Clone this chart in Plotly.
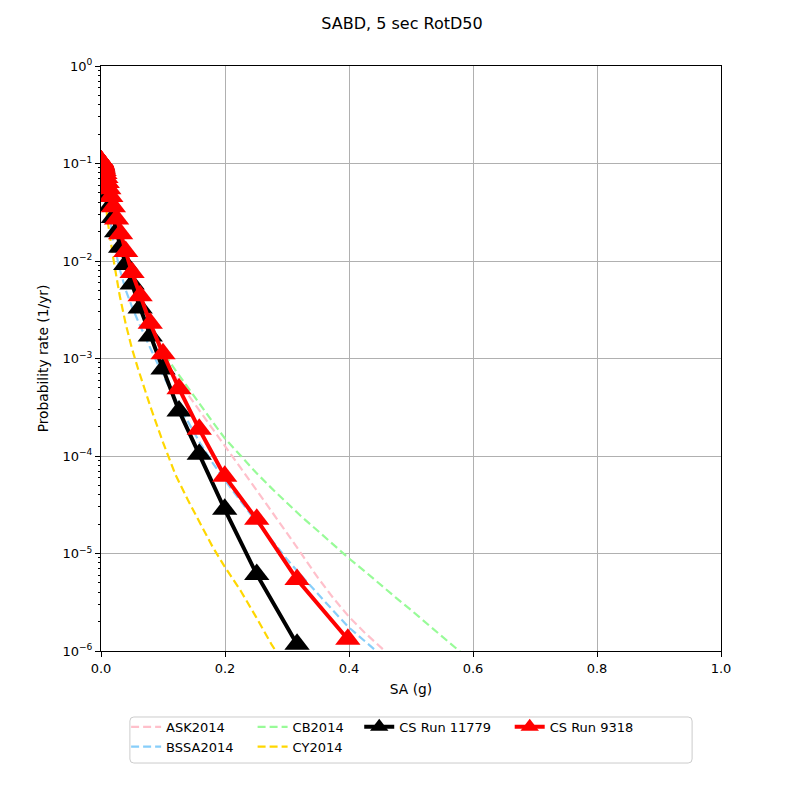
import plotly.graph_objects as go

# CyberShake IM levels (g)
cs_x = [0.0001, 0.00013, 0.00016, 0.0002, 0.00025, 0.00032, 0.0004, 0.0005, 0.00063, 0.00079,
        0.001, 0.00126, 0.00158, 0.002, 0.00251, 0.00316, 0.00398, 0.00501, 0.00631, 0.00794,
        0.01, 0.01259, 0.01585, 0.01995, 0.02512, 0.03162, 0.03981, 0.05012, 0.0631, 0.07943,
        0.1, 0.12589, 0.15849, 0.19953, 0.25119, 0.31623, 0.39811]

# CS Run 9318 (red)
run_9318 = [0.106, 0.106, 0.106, 0.106, 0.106, 0.105, 0.105, 0.105, 0.104, 0.104,
            0.103, 0.102, 0.101, 0.099, 0.097, 0.094, 0.090, 0.085, 0.079, 0.072,
            0.064, 0.055, 0.046, 0.036, 0.027, 0.019, 0.0125, 0.0076, 0.0044, 0.0023,
            0.00112, 0.00049, 0.000188, 6.2e-5, 2.24e-5, 5.4e-6, 1.32e-6]

# CS Run 11779 (black)
run_11779 = [0.104, 0.104, 0.104, 0.104, 0.104, 0.103, 0.103, 0.103, 0.102, 0.102,
             0.101, 0.100, 0.099, 0.097, 0.094, 0.090, 0.085, 0.079, 0.072, 0.064,
             0.056, 0.047, 0.037, 0.028, 0.020, 0.0138, 0.0092, 0.0058, 0.0033, 0.0017,
             0.00078, 0.00029, 0.000104, 2.84e-5, 6.1e-6, 1.17e-6]

# GMPE curves share this grid (g)
gmpe_x = [0.0001, 0.001, 0.0025, 0.005, 0.0075, 0.01, 0.02, 0.03, 0.04, 0.05,
          0.06, 0.08, 0.1, 0.12, 0.14, 0.16, 0.18, 0.2, 0.225, 0.25,
          0.275, 0.3, 0.325, 0.35, 0.375, 0.4, 0.425, 0.45, 0.475, 0.5,
          0.55, 0.6]

ask2014 = [0.105, 0.1, 0.0912, 0.0794, 0.0692, 0.0589, 0.0331, 0.0186, 0.0112, 0.00692,
           0.00447, 0.00204, 0.00102, 6.46e-4, 4.27e-4, 2.82e-4, 1.91e-4, 1.26e-4, 7.59e-5, 4.57e-5,
           2.75e-5, 1.62e-5, 9.55e-6, 5.62e-6, 3.47e-6, 2.24e-6, 1.55e-6, 1.10e-6, 7.94e-7, 5.75e-7]

bssa2014 = [0.105, 0.1, 0.0891, 0.0708, 0.0550, 0.0417, 0.0158, 0.00832, 0.00501, 0.00339,
            0.0024, 0.00126, 6.76e-4, 3.80e-4, 2.24e-4, 1.35e-4, 8.51e-5, 5.62e-5, 3.47e-5, 2.14e-5,
            1.38e-5, 8.71e-6, 5.75e-6, 3.80e-6, 2.57e-6, 1.74e-6, 1.26e-6, 9.12e-7, 6.76e-7]

cb2014 = [0.105, 0.1, 0.0912, 0.0813, 0.0708, 0.0603, 0.0339, 0.0195, 0.0120, 0.00741,
          0.00479, 0.00219, 0.00117, 7.59e-4, 5.01e-4, 3.31e-4, 2.24e-4, 1.51e-4, 1.0e-4, 6.76e-5,
          4.68e-5, 3.31e-5, 2.34e-5, 1.70e-5, 1.23e-5, 8.91e-6, 6.61e-6, 4.90e-6, 3.55e-6, 2.63e-6,
          1.41e-6, 7.59e-7]

cy2014 = [0.105, 0.0977, 0.0851, 0.0631, 0.0417, 0.0275, 0.0105, 0.00447, 0.00224, 0.00126,
          7.76e-4, 3.16e-4, 1.38e-4, 6.46e-5, 3.55e-5, 2.0e-5, 1.17e-5, 7.24e-6, 4.17e-6, 2.24e-6,
          1.17e-6, 6.61e-7]

y_ticks = [1e-6, 1e-5, 1e-4, 1e-3, 1e-2, 1e-1, 1]
y_labels = ["10<sup>\u22126</sup>", "10<sup>\u22125</sup>", "10<sup>\u22124</sup>", "10<sup>\u22123</sup>",
            "10<sup>\u22122</sup>", "10<sup>\u22121</sup>", "10<sup>0</sup>"]

fig = go.Figure()

# name, values, colour, legend column (matplotlib ncol=4 fills columns first)
gmpes = [("ASK2014", ask2014, "pink", "legend"),
         ("BSSA2014", bssa2014, "lightskyblue", "legend"),
         ("CB2014", cb2014, "palegreen", "legend2"),
         ("CY2014", cy2014, "gold", "legend2")]

for name, vals, col, leg in gmpes:
    fig.add_trace(go.Scatter(
        x=gmpe_x[:len(vals)], y=vals, name=name, mode="lines",
        line=dict(color=col, width=2.2, dash="8px,4px"),
        legend=leg))

fig.add_trace(go.Scatter(
    x=cs_x[:len(run_11779)], y=run_11779, name="CS Run 11779", mode="lines+markers",
    line=dict(color="black", width=4),
    marker=dict(symbol="triangle-up", size=22, color="black"),
    legend="legend3"))

fig.add_trace(go.Scatter(
    x=cs_x, y=run_9318, name="CS Run 9318", mode="lines+markers",
    line=dict(color="red", width=4),
    marker=dict(symbol="triangle-up", size=22, color="red"),
    legend="legend4"))

# one legend per column, placed like the matplotlib legend
leg_common = dict(orientation="v", y=-0.104, yanchor="top", xanchor="left",
                  bgcolor="rgba(0,0,0,0)", borderwidth=0, font=dict(size=13),
                  itemwidth=30, tracegroupgap=0)

fig.update_layout(
    width=800, height=800,
    margin=dict(l=93, r=87, t=58, b=157),
    paper_bgcolor="white", plot_bgcolor="white",
    font=dict(family="DejaVu Sans", size=13, color="black"),
    title=dict(text="SABD, 5 sec RotD50", x=0.4925, xref="container", xanchor="center",
               y=0.981, yref="container", yanchor="middle", font=dict(size=16)),
    legend=dict(x=0.0405, **leg_common),
    legend2=dict(x=0.2445, **leg_common),
    legend3=dict(x=0.4165, **leg_common),
    legend4=dict(x=0.6592, **leg_common),
    showlegend=True,
)

# legend frame (rounded corners like matplotlib's fancybox)
fig.add_shape(type="path", xref="paper", yref="paper",
              path="M 0.0530,-0.1128 L 0.9470,-0.1128 Q 0.9534,-0.1128 0.9534,-0.1196 "
                   "L 0.9534,-0.1847 Q 0.9534,-0.1915 0.9470,-0.1915 L 0.0530,-0.1915 "
                   "Q 0.0466,-0.1915 0.0466,-0.1847 L 0.0466,-0.1196 Q 0.0466,-0.1128 0.0530,-0.1128 Z",
              line=dict(color="#cccccc", width=1), layer="below")

fig.update_xaxes(
    title=dict(text="SA (g)", standoff=9, font=dict(size=13.8)),
    range=[0, 1], dtick=0.2, tickformat=".1f",
    showgrid=True, gridcolor="#b0b0b0", gridwidth=1,
    showline=True, mirror=True, linecolor="black", linewidth=1,
    ticks="outside", ticklen=5, tickcolor="black", zeroline=False)

fig.update_yaxes(
    title=dict(text="Probability rate (1/yr)", standoff=10, font=dict(size=13.8)),
    type="log", range=[-6, 0],
    tickvals=y_ticks, ticktext=y_labels,
    showgrid=True, gridcolor="#b0b0b0", gridwidth=1,
    showline=True, mirror=True, linecolor="black", linewidth=1,
    ticks="outside", ticklen=5, tickcolor="black", zeroline=False,
    minor=dict(ticks="outside", ticklen=2.5, tickcolor="black", dtick="D1", showgrid=False))

fig.write_html("out.html")
